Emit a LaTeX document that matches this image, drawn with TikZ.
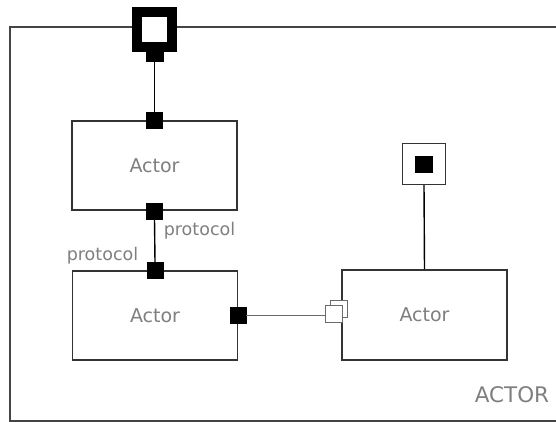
\documentclass[tikz,border=0pt]{standalone}
\usepackage{fontspec}
\setmainfont{DejaVu Sans}
\usepackage{tikz}
\usetikzlibrary{positioning}
\definecolor{actorLine}{HTML}{333333}
\definecolor{actorText}{HTML}{7F7F7F}
\definecolor{relayLine}{HTML}{6A6A6A}
\definecolor{frameLine}{HTML}{444444}

\begin{document}
\begin{tikzpicture}[x=1pt, y=-1pt,
    actorbox/.style={draw=actorLine, line width=1.6pt, fill=white,
      minimum width=165pt, minimum height=89pt, inner sep=0pt,
      font=\fontsize{19}{19}\selectfont, text=actorText},
    endport/.style={draw=black, fill=black, minimum size=16pt, inner sep=0pt},
    relayport/.style={draw=relayLine, fill=white, line width=1pt,
      minimum size=17pt, inner sep=0pt},
    wire/.style={draw=black, line width=1.4pt},
    lbl/.style={text=actorText, inner sep=0pt}]
    \useasboundingbox (0,0) rectangle (556,421);
    \clip (0,0) rectangle (556,421);
    % ---- containing actor ----
    \draw[frameLine, line width=2pt] (10,27) rectangle (570,421);
    \node[lbl, font=\fontsize{21.5}{21.5}\selectfont] (title) at (512,395) {ACTOR};
    % ---- boundary port on the frame ----
    \node[draw=black, line width=10pt, fill=white, minimum size=35pt,
          inner sep=0pt] (outer) at (154.5,29.5) {};
    \node[fill=black, minimum width=18pt, minimum height=10pt, inner sep=0pt,
          below=0pt of outer] (outertab) {};
    % ---- contained actors ----
    \node[actorbox] (actorA) at (154.5,165.5) {Actor};
    \node[actorbox] (actorB) at (155,315.5) {Actor};
    \node[actorbox, minimum height=90pt] (actorC) at (424.5,315) {Actor};
    % ---- ports ----
    \node[endport] (portAN) at (actorA.north) {};
    \node[endport] (portAS) at (actorA.south) {};
    \node[endport] (portBN) at (actorB.north) {};
    \node[endport] (portBE) at (238,315) {};
    \node[relayport] (relayBack) at (339,309) {};
    \node[relayport] (relayFront) at (334,314) {};
    \node[draw=black!80, line width=1.2pt, fill=white, minimum width=43pt,
          minimum height=41pt, inner sep=0pt] (portCN) at (424,164) {};
    \node[fill=black, minimum width=18pt, minimum height=17pt, inner sep=0pt]
      (portCNin) at (portCN.center) {};
    % ---- connectors ----
    \draw[wire] (outertab.south) -- (portAN.north);
    \draw[wire] (portAS.south) -- (portBN.north);
    \draw[relayLine, line width=1pt] (portBE.east) -- (portBE.east -| relayFront.west);
    \draw[wire] (portCN.south) -- (actorC.north);
    % ---- protocol labels ----
    \node[lbl, font=\fontsize{17.5}{17.5}\selectfont] (protoA) at (199.5,231) {protocol};
    \node[lbl, font=\fontsize{17.5}{17.5}\selectfont] (protoB) at (102.5,256) {protocol};
\end{tikzpicture}
\end{document}
